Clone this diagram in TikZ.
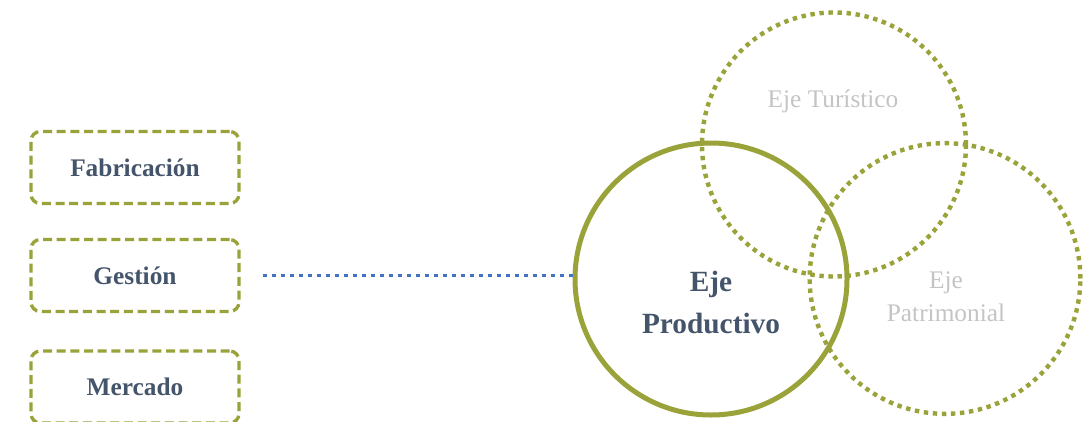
\documentclass[tikz,border=0pt]{standalone}
\usepackage{fontspec}
\setmainfont{Liberation Serif}
\definecolor{olive}{HTML}{9AA33A}
\definecolor{slate}{HTML}{44546A}
\definecolor{linkblue}{HTML}{4472C4}
\definecolor{softgray}{HTML}{C4C4C4}
\begin{document}
\begin{tikzpicture}[x=0.75pt, y=-0.75pt,
    area/.style={draw=olive, line width=2.5pt, dash pattern=on 6.75pt off 3.5pt, rounded corners=7pt,
        minimum width=156pt, minimum height=54pt, inner sep=0pt, text=slate, font=\fontsize{19}{22}\selectfont\bfseries},
    mainaxis/.style={circle, draw=olive, line width=3.75pt, minimum size=204pt, inner sep=0pt},
    sideaxis/.style={circle, draw=olive, line width=3.3pt, dash pattern=on 3.3pt off 3.5pt, inner sep=0pt},
    maintext/.style={align=center, text=slate, font=\fontsize{22}{31.5}\selectfont\bfseries},
    sidetext/.style={align=center, text=softgray, font=\fontsize{19}{25}\selectfont},
    link/.style={draw=linkblue, line width=2.6pt, dash pattern=on 3pt off 3.75pt}]
    \useasboundingbox (0,0) rectangle (1084,421);

    \node [area] (fabricacion) at (135,167.5) {Fabricación};
    \node [area] (gestion) at (135,275.5) {Gestión};
    \node [area] (mercado) at (135,387) {Mercado};

    \node [mainaxis] (productivo) at (711,279) {};
    \node [sideaxis, minimum size=198pt] (turistico) at (834,144.5) {};
    \node [sideaxis, minimum size=203pt] (patrimonial) at (945,278.5) {};

    \node [sidetext] (turisticoLbl) at (833,101) {Eje Turístico};
    \node [sidetext] (patrimonialLbl) at (946,297) {Eje\\Patrimonial};
    \node [maintext] (productivoLbl) at (711,302) {Eje\\Productivo};

    \draw [link, shorten <=16.5pt] (gestion.east) -- (gestion.east -| productivo.west);
\end{tikzpicture}
\end{document}
